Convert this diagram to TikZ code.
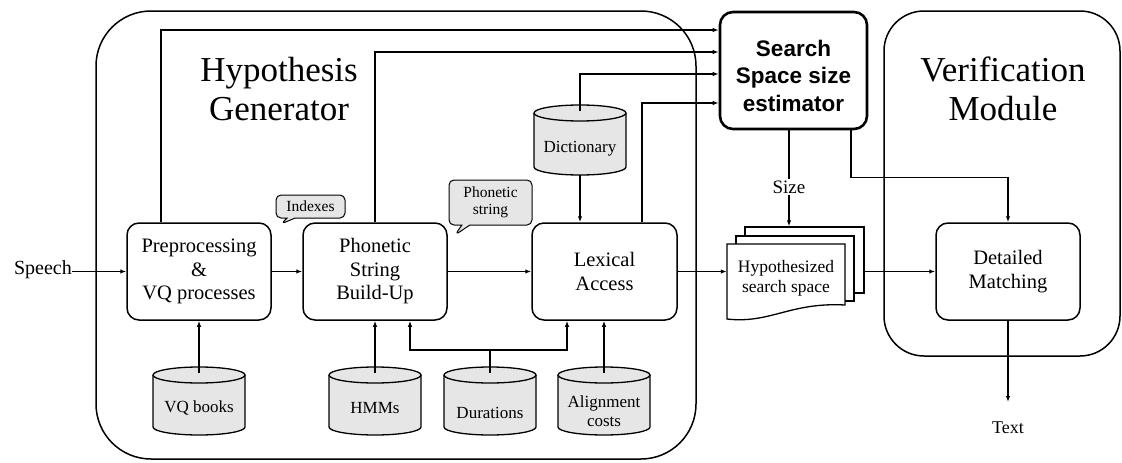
\documentclass[tikz,border=0pt]{standalone}
\usepackage{fontspec}
\setmainfont{Liberation Serif}
\setsansfont{Liberation Sans}
\usetikzlibrary{arrows.meta,shapes.callouts,calc}
\definecolor{dbgray}{HTML}{E6E6E6}
\begin{document}
\begin{tikzpicture}[x=1pt,y=1pt,
  arr/.style={-{Latex[length=6pt,width=4.5pt]}, line width=1.3pt},
  ln/.style={line width=1.3pt},
  container/.style={draw, line width=1.5pt},
  procbox/.style={draw, fill=white, line width=1.5pt, rounded corners=12pt, minimum width=144pt, minimum height=97pt, align=center, font=\fontsize{20.5}{23.5}\selectfont, inner sep=0pt},
  estbox/.style={draw, fill=white, line width=2.6pt, rounded corners=13pt, minimum width=147pt, minimum height=117pt, inner sep=0pt},
  esttext/.style={align=center, font=\sffamily\bfseries\fontsize{22.5}{27.5}\selectfont, inner sep=0pt},
  titletext/.style={align=center, font=\fontsize{35}{39}\selectfont, inner sep=0pt},
  lbl/.style={font=\fontsize{19}{22}\selectfont, inner sep=0pt},
  dblabel/.style={align=center, font=\fontsize{17}{19}\selectfont, inner sep=0pt},
  cylsty/.style={draw, fill=dbgray, line width=1.3pt},
  callbox/.style={rectangle callout, draw, fill=dbgray, line width=1pt, rounded corners=5pt, font=\fontsize{15.5}{17}\selectfont, align=center, inner sep=2pt, callout pointer width=8pt},
  docsty/.style={draw, fill=white, line width=1.3pt},
]
\useasboundingbox (0,0) rectangle (1122,-463);

% containers
\draw[container, rounded corners=55pt] (96,-11) rectangle (696,-459);
\draw[container, rounded corners=40pt] (884,-11) rectangle (1120,-356);
\node[titletext] (hgtitle) at (279,-89) {Hypothesis\\Generator};
\node[titletext] (vmtitle) at (1003,-89) {Verification\\Module};

% process boxes
\node[procbox] (prep) at (199,-271.5) {Preprocessing\\\&\\VQ processes};
\node[procbox] (phon) at (375,-271.5) {Phonetic\\String\\Build-Up};
\node[procbox, minimum width=145pt] (lex) at (604.5,-271.5) {Lexical\\Access};
\node[procbox] (dm) at (1008,-271.5) {Detailed\\Matching};
\node[estbox] (est) at (793.5,-70.5) {};
\node[esttext] (esttxt) at ([yshift=-5pt]est.center) {Search\\Space size\\estimator};

% cylinders
\draw[cylsty] (153,-375) -- (153,-427) arc[start angle=180,end angle=360,x radius=46,y radius=8] -- (245,-375);
\draw[cylsty] (199,-375) ellipse[x radius=46,y radius=8];
\coordinate (vqtop) at (199,-373);
\node[dblabel] (vq) at (199,-408) {VQ books};

\draw[cylsty] (329,-375) -- (329,-427) arc[start angle=180,end angle=360,x radius=46,y radius=8] -- (421,-375);
\draw[cylsty] (375,-375) ellipse[x radius=46,y radius=8];
\coordinate (hmmtop) at (375,-373);
\node[dblabel] (hmm) at (375,-408) {HMMs};

\draw[cylsty] (444,-375) -- (444,-427) arc[start angle=180,end angle=360,x radius=46,y radius=8] -- (536,-375);
\draw[cylsty] (490,-375) ellipse[x radius=46,y radius=8];
\coordinate (durtop) at (490,-373);
\node[dblabel] (dur) at (490,-413) {Durations};

\draw[cylsty] (558,-375) -- (558,-427) arc[start angle=180,end angle=360,x radius=46,y radius=8] -- (650,-375);
\draw[cylsty] (604,-375) ellipse[x radius=46,y radius=8];
\coordinate (aligntop) at (604,-373);
\node[dblabel] (align) at (604,-411) {Alignment\\costs};

\draw[cylsty] (534,-113) -- (534,-167) arc[start angle=180,end angle=360,x radius=46,y radius=8] -- (626,-113);
\draw[cylsty] (580,-113) ellipse[x radius=46,y radius=8];
\coordinate (dicttop) at (580,-111);
\coordinate (dictbot) at (580,-175);
\node[dblabel] (dict) at (580,-149) {Dictionary};

% documents
\node[docsty, minimum width=119pt, minimum height=66pt, inner sep=0pt] (doc3) at (804.5,-260) {};
\node[docsty, minimum width=118pt, minimum height=65pt, inner sep=0pt] (doc2) at (795,-268.5) {};
\draw[docsty] (727,-244) -- (845,-244) -- (845,-305) .. controls (790,-302) and (770,-324) .. (727,-319) -- cycle;
\node[dblabel, font=\fontsize{17.5}{20}\selectfont, minimum width=118pt] (doc1) at (786,-278) {Hypothesized\\search space};

% callouts
\node[callbox, minimum width=69pt, minimum height=23pt, callout absolute pointer={(281,-224)}] (idx) at (310.5,-206.5) {Indexes};
\node[callbox, minimum width=83pt, minimum height=45pt, callout absolute pointer={(455,-235)}] (phs) at (490.5,-202.5) {Phonetic\\string};

% labels
\node[lbl, anchor=east, font=\fontsize{20}{22}\selectfont] (speech) at (72,-270) {Speech};
\node[lbl, fill=white, inner sep=1.5pt] (size) at (789,-187) {Size};
\node[lbl, font=\fontsize{18}{20}\selectfont] (txt) at (1008,-428) {Text};
\coordinate (txtin) at (1008,-402);

% main flow
\draw[arr] (speech.east |- prep.west) -- (prep.west);
\draw[arr] (prep.east) -- (phon.west);
\draw[arr] (phon.east) -- (lex.west);
\draw[arr] (lex.east) -- (lex.east -| doc1.west);
\draw[arr] (doc3.east |- dm.west) -- (dm.west);
\draw[arr] (dm.south) -- (txtin);

% resources
\draw[arr] (vqtop) -- (prep.south);
\draw[arr] (hmmtop) -- (phon.south);
\coordinate (dj) at (490,-350);
\draw[ln] (durtop) -- (dj);
\draw[arr] (dj) -| ([xshift=35pt]phon.south);
\draw[arr] (dj) -| ([xshift=-37.5pt]lex.south);
\draw[arr] (aligntop) -- (aligntop |- lex.south);
\draw[arr] (dictbot) -- (dictbot |- lex.north);

% to estimator
\draw[arr] ([xshift=-38pt]prep.north) |- ([yshift=40.5pt]est.west);
\draw[arr] (phon.north) |- ([yshift=18.5pt]est.west);
\draw[arr] (dicttop) |- ([yshift=-3.5pt]est.west);
\draw[arr] ([xshift=37.5pt]lex.north) |- ([yshift=-32.5pt]est.west);

% from estimator
\draw[ln] ([xshift=-4.5pt]est.south) -- (size);
\draw[arr] (size) -- (size |- doc3.north);
\draw[arr] ([xshift=57.5pt]est.south) -- ++(0,-47) -| (dm.north);
\end{tikzpicture}
\end{document}
